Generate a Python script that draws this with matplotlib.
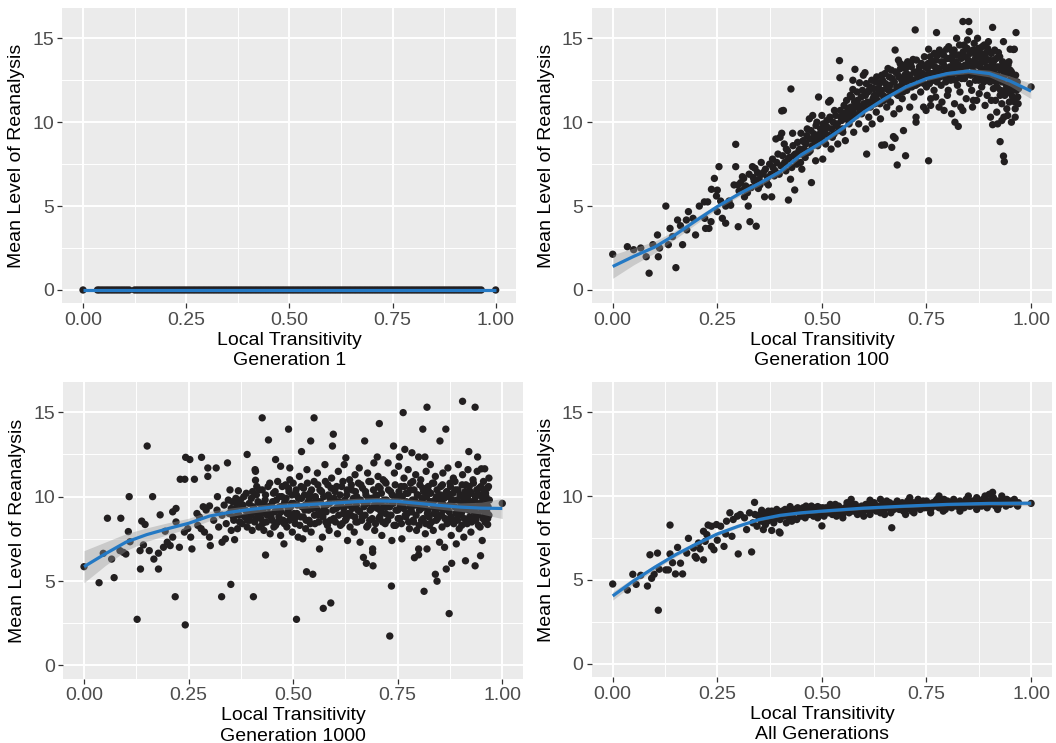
import matplotlib
matplotlib.use("Agg")
import matplotlib.pyplot as plt
import numpy as np

plt.rcParams['font.family'] = ['Liberation Sans', 'DejaVu Sans']

# ---------------- DATA ----------------
# Generation 1 : every point at level 0
gen1_x = [0.0, 0.035, 0.04, 0.046, 0.052, 0.058, 0.064, 0.07, 0.076, 0.082, 0.088, 0.094, 0.1, 0.106, 0.112,
          0.125, 0.131, 0.137, 0.143, 0.149, 0.155, 0.161, 0.167, 0.173, 0.179, 0.185, 0.191, 0.197, 0.203,
          0.209, 0.215, 0.221, 0.227, 0.233, 0.239, 0.245, 0.251, 0.257, 0.263, 0.269, 0.275, 0.281, 0.287,
          0.293, 0.299, 0.305, 0.311, 0.317, 0.323, 0.329, 0.335, 0.341, 0.347, 0.353, 0.359, 0.365, 0.371,
          0.377, 0.383, 0.389, 0.395, 0.401, 0.407, 0.413, 0.419, 0.425, 0.431, 0.437, 0.443, 0.449, 0.455,
          0.461, 0.467, 0.473, 0.479, 0.485, 0.491, 0.497, 0.503, 0.509, 0.515, 0.521, 0.527, 0.533, 0.539,
          0.545, 0.551, 0.557, 0.563, 0.569, 0.575, 0.581, 0.587, 0.593, 0.599, 0.605, 0.611, 0.617, 0.623,
          0.629, 0.635, 0.641, 0.647, 0.653, 0.659, 0.665, 0.671, 0.677, 0.683, 0.689, 0.695, 0.701, 0.707,
          0.713, 0.719, 0.725, 0.731, 0.737, 0.743, 0.749, 0.755, 0.761, 0.767, 0.773, 0.779, 0.785, 0.791,
          0.797, 0.803, 0.809, 0.815, 0.821, 0.827, 0.833, 0.839, 0.845, 0.851, 0.857, 0.863, 0.869, 0.875,
          0.881, 0.887, 0.893, 0.899, 0.905, 0.911, 0.917, 0.923, 0.929, 0.935, 0.941, 0.947, 0.953, 0.959,
          0.965, 1.0]
gen1_y = [0.0] * len(gen1_x)
gen1_fit_x = [0.0, 0.25, 0.5, 0.75, 1.0]
gen1_fit_y = [0.0, 0.0, 0.0, 0.0, 0.0]
gen1_fit_se = [0.0, 0.0, 0.0, 0.0, 0.0]

# Generation 100
gen100_pts = [
    (0.00, 2.13), (0.035, 2.58), (0.05, 2.40), (0.067, 2.50), (0.08, 1.98), (0.087, 1.00), (0.096, 2.70),
    (0.107, 3.28), (0.109, 1.98), (0.112, 2.50), (0.127, 5.00), (0.133, 2.70), (0.137, 3.67), (0.143, 3.18),
    (0.151, 1.33), (0.155, 4.17), (0.162, 3.83), (0.167, 2.70), (0.176, 4.17), (0.177, 3.58), (0.181, 4.67),
    (0.192, 4.27), (0.198, 3.28), (0.207, 5.00), (0.219, 5.25), (0.227, 5.25), (0.22, 4.27), (0.23, 3.67),
    (0.222, 3.67), (0.235, 4.07), (0.243, 6.65), (0.236, 6.00), (0.248, 5.60), (0.254, 7.35), (0.25, 5.95),
    (0.258, 5.30), (0.25, 4.67), (0.262, 4.27), (0.27, 3.98), (0.27, 5.00), (0.278, 5.30), (0.282, 5.05),
    (0.294, 8.68), (0.294, 7.35), (0.29, 6.26), (0.30, 6.26), (0.30, 3.77), (0.31, 6.75), (0.313, 6.65),
    (0.315, 6.05), (0.315, 5.55), (0.324, 5.00), (0.328, 4.07), (0.334, 7.35), (0.34, 7.25), (0.343, 3.80),
    (0.336, 6.70), (0.344, 6.26), (0.348, 6.05), (0.352, 6.26), (0.355, 7.60), (0.36, 7.00), (0.363, 5.55),
    (0.37, 6.70), (0.372, 6.26), (0.38, 5.55), (0.383, 7.30), (0.386, 6.80),
    (0.39, 9.00), (0.40, 9.10), (0.404, 10.67), (0.404, 9.34), (0.408, 10.70), (0.41, 8.70), (0.415, 8.40),
    (0.42, 5.36), (0.42, 7.80), (0.425, 6.60), (0.426, 11.98), (0.43, 9.34), (0.432, 8.00), (0.435, 5.96),
    (0.44, 7.50), (0.445, 8.30), (0.45, 9.34), (0.452, 7.20), (0.458, 8.80), (0.46, 7.90), (0.465, 9.60),
    (0.47, 10.20), (0.472, 8.30), (0.475, 6.40), (0.478, 10.40), (0.48, 9.00), (0.485, 7.70), (0.488, 10.00),
    (0.49, 8.60), (0.492, 11.50), (0.495, 9.30), (0.50, 10.40), (0.502, 7.80), (0.505, 8.90), (0.51, 9.60),
    (0.512, 10.10), (0.516, 11.20), (0.52, 11.30), (0.522, 8.40), (0.525, 9.10), (0.53, 10.70), (0.535, 9.80),
    (0.538, 8.70), (0.542, 13.67), (0.543, 12.65), (0.545, 10.30), (0.55, 9.40), (0.553, 11.00), (0.556, 8.90),
    (0.56, 10.60), (0.565, 9.90), (0.568, 11.60), (0.572, 10.20), (0.574, 12.50), (0.574, 11.95), (0.576, 9.40),
    (0.579, 13.15), (0.58, 10.90), (0.585, 11.30), (0.588, 9.90), (0.59, 12.35), (0.595, 10.50), (0.599, 12.80),
    (0.60, 11.10), (0.603, 12.95), (0.605, 9.60), (0.607, 8.10), (0.61, 11.80), (0.612, 10.30), (0.615, 12.10),
    (0.618, 11.00), (0.62, 9.90), (0.625, 11.60), (0.628, 12.40), (0.63, 10.60), (0.633, 11.30), (0.636, 12.00),
    (0.64, 10.20), (0.643, 12.80), (0.643, 8.63), (0.646, 11.60), (0.65, 8.65), (0.652, 12.30), (0.655, 10.90),
    (0.658, 13.20), (0.66, 11.90), (0.664, 11.20), (0.667, 8.50), (0.668, 12.60), (0.671, 9.14), (0.672, 10.50),
    (0.675, 14.30), (0.675, 9.04), (0.678, 11.70), (0.68, 7.45), (0.68, 12.90), (0.683, 13.70),
    (0.685, 10.80), (0.687, 13.50), (0.69, 12.20), (0.692, 11.40), (0.695, 9.50), (0.698, 12.80), (0.70, 8.00),
    (0.70, 13.20), (0.703, 11.90), (0.706, 12.50), (0.71, 10.90), (0.712, 13.50), (0.715, 12.10), (0.718, 13.74),
    (0.72, 11.50), (0.723, 15.50), (0.725, 10.30), (0.725, 10.00), (0.727, 12.90), (0.73, 12.30), (0.733, 13.30),
    (0.736, 11.80), (0.74, 12.70), (0.743, 10.90), (0.745, 13.90), (0.749, 10.70), (0.75, 12.10), (0.752, 13.20),
    (0.755, 7.70), (0.755, 14.35), (0.758, 12.60), (0.76, 11.40), (0.762, 13.60), (0.765, 12.90), (0.768, 11.90),
    (0.77, 13.30), (0.774, 15.34), (0.775, 12.40), (0.777, 14.00), (0.78, 10.90), (0.782, 13.00), (0.785, 12.20),
    (0.788, 14.10), (0.79, 13.50), (0.792, 10.70), (0.795, 12.70), (0.798, 14.35), (0.80, 13.10), (0.802, 11.90),
    (0.805, 13.80), (0.808, 12.50), (0.81, 10.50), (0.812, 14.20), (0.814, 13.60), (0.815, 12.90), (0.818, 10.00),
    (0.82, 13.30), (0.822, 15.00), (0.824, 12.20), (0.826, 9.75), (0.828, 14.00), (0.83, 13.00), (0.832, 10.90),
    (0.834, 12.60), (0.837, 16.00), (0.837, 10.70), (0.84, 14.60), (0.842, 13.40), (0.845, 12.80), (0.848, 14.90),
    (0.85, 13.70), (0.851, 16.00), (0.852, 15.40), (0.853, 12.30), (0.855, 14.20), (0.858, 11.90), (0.86, 13.30),
    (0.862, 11.30), (0.864, 14.70), (0.866, 12.90), (0.868, 13.90), (0.87, 11.30), (0.872, 15.00), (0.874, 14.40),
    (0.875, 12.50), (0.877, 13.50), (0.88, 14.10), (0.882, 12.10), (0.885, 13.10), (0.888, 14.60), (0.89, 12.70),
    (0.892, 13.80), (0.895, 11.60), (0.898, 14.80), (0.90, 12.90), (0.902, 12.40), (0.903, 10.30), (0.904, 14.15),
    (0.906, 13.40), (0.908, 15.65), (0.908, 9.85), (0.91, 12.00), (0.912, 13.70), (0.915, 11.30), (0.918, 12.80),
    (0.92, 9.90), (0.922, 14.15), (0.924, 13.20), (0.926, 8.84), (0.926, 11.60), (0.928, 12.60), (0.93, 10.10),
    (0.932, 13.60), (0.934, 14.80), (0.934, 7.98), (0.935, 10.30), (0.936, 7.65), (0.938, 11.90), (0.94, 12.90),
    (0.942, 10.80), (0.945, 13.40), (0.948, 11.20), (0.95, 13.10), (0.95, 14.35), (0.952, 11.70), (0.955, 12.40),
    (0.958, 14.33), (0.958, 11.40), (0.96, 14.35), (0.962, 10.30), (0.964, 15.34), (0.966, 12.00), (0.968, 11.50),
    (1.0, 12.10)]
gen100_band = [
    (0.302, 5.9), (0.306, 6.4), (0.318, 6.2), (0.322, 5.8), (0.326, 6.9), (0.331, 6.1), (0.338, 6.5), (0.346, 7.0),
    (0.35, 6.6), (0.357, 6.9), (0.365, 7.2), (0.368, 6.4), (0.375, 7.5), (0.378, 6.9), (0.382, 7.8), (0.388, 7.1),
    (0.392, 7.6), (0.395, 8.1), (0.398, 6.9), (0.402, 7.4), (0.406, 8.0), (0.411, 7.6), (0.414, 7.1), (0.418, 8.3),
    (0.422, 7.9), (0.428, 7.3), (0.431, 8.6), (0.436, 8.1), (0.438, 7.7), (0.442, 8.8), (0.447, 8.4), (0.449, 7.6),
    (0.451, 8.1), (0.455, 8.9), (0.457, 8.4), (0.462, 8.7), (0.464, 9.2), (0.468, 8.2), (0.471, 9.0), (0.474, 9.5),
    (0.477, 8.6), (0.481, 9.3), (0.484, 8.9), (0.486, 9.8), (0.489, 9.1), (0.493, 8.8), (0.497, 9.6), (0.499, 9.0),
    (0.503, 9.9), (0.507, 9.3), (0.509, 8.7), (0.513, 9.7), (0.517, 9.2), (0.519, 10.3), (0.523, 9.6), (0.527, 10.0),
    (0.529, 9.3), (0.533, 10.4), (0.537, 9.9), (0.54, 9.5), (0.544, 10.7), (0.547, 10.1), (0.549, 9.6), (0.552, 10.5),
    (0.557, 10.2), (0.559, 11.3), (0.562, 10.8), (0.566, 10.4), (0.569, 10.9), (0.571, 11.5), (0.575, 10.6),
    (0.578, 11.2), (0.582, 10.4), (0.584, 11.8), (0.587, 11.0), (0.591, 10.7), (0.594, 11.5), (0.597, 11.9),
    (0.601, 10.9), (0.604, 11.6), (0.606, 12.3), (0.609, 11.2), (0.613, 11.9), (0.616, 10.9), (0.619, 12.5),
    (0.622, 11.4), (0.624, 12.0), (0.627, 11.1), (0.631, 12.7), (0.634, 11.7), (0.637, 12.3), (0.639, 11.1),
    (0.642, 11.9), (0.645, 12.5), (0.648, 11.3), (0.651, 12.9), (0.654, 12.0), (0.657, 11.5), (0.661, 12.7),
    (0.663, 12.2), (0.666, 13.1), (0.669, 11.8), (0.673, 12.4), (0.676, 13.0), (0.679, 12.1), (0.682, 11.6),
    (0.684, 12.7), (0.688, 13.2), (0.691, 12.5), (0.694, 11.8), (0.697, 13.4), (0.699, 12.4), (0.702, 12.9),
    (0.705, 13.6), (0.708, 12.1), (0.711, 12.8), (0.714, 13.3), (0.717, 12.5), (0.721, 13.0), (0.724, 12.2),
    (0.726, 13.7), (0.729, 12.7), (0.732, 13.1), (0.735, 12.4), (0.738, 13.5), (0.741, 12.9), (0.744, 12.3),
    (0.747, 13.3), (0.751, 12.8), (0.754, 13.5), (0.757, 12.3), (0.759, 13.9), (0.761, 12.9), (0.764, 13.4),
    (0.766, 12.5), (0.769, 14.1), (0.771, 12.9), (0.773, 13.7), (0.776, 12.6), (0.779, 13.2), (0.781, 14.3),
    (0.783, 12.7), (0.786, 13.6), (0.789, 12.9), (0.791, 14.0), (0.793, 13.3), (0.796, 12.4), (0.799, 13.8),
    (0.801, 12.9), (0.803, 14.5), (0.806, 13.3), (0.809, 12.7), (0.811, 13.9), (0.813, 13.1), (0.816, 14.3),
    (0.819, 12.5), (0.821, 13.6), (0.823, 14.0), (0.825, 12.9), (0.827, 13.4), (0.829, 14.6), (0.831, 12.7),
    (0.833, 13.8), (0.836, 13.2), (0.838, 14.2), (0.841, 12.6), (0.843, 13.9), (0.846, 13.3), (0.847, 14.4),
    (0.849, 12.9), (0.852, 13.6), (0.854, 14.1), (0.856, 12.8), (0.859, 13.5), (0.861, 14.3), (0.863, 13.0),
    (0.865, 13.7), (0.867, 12.5), (0.869, 14.0), (0.871, 13.4), (0.873, 12.9), (0.876, 14.2), (0.878, 13.3),
    (0.879, 12.7), (0.881, 13.8), (0.883, 14.5), (0.886, 13.0), (0.887, 12.4), (0.889, 13.6), (0.891, 14.1),
    (0.893, 12.9), (0.894, 13.3), (0.896, 14.4), (0.899, 12.6), (0.901, 13.7), (0.903, 13.1), (0.905, 14.1),
    (0.907, 12.5), (0.909, 13.5), (0.911, 12.9), (0.913, 14.3), (0.914, 13.2), (0.916, 12.4), (0.917, 13.8),
    (0.919, 12.1), (0.921, 13.3), (0.923, 12.7), (0.925, 13.9), (0.927, 11.9), (0.929, 13.1), (0.931, 12.4),
    (0.933, 13.5), (0.936, 12.8), (0.937, 11.6), (0.939, 13.2), (0.941, 12.2), (0.944, 12.9), (0.946, 11.8),
    (0.947, 13.6), (0.949, 12.5), (0.951, 12.0), (0.953, 13.0), (0.956, 11.5), (0.957, 12.7), (0.959, 12.2),
    (0.961, 11.2), (0.963, 12.8), (0.965, 11.9), (0.967, 12.4), (0.969, 11.1), (0.97, 12.0),
    (0.76, 11.0), (0.772, 11.5), (0.787, 11.2), (0.80, 11.6), (0.817, 11.1), (0.83, 11.8), (0.845, 11.4),
    (0.86, 10.9), (0.876, 11.7), (0.89, 11.0), (0.905, 11.3), (0.918, 10.6), (0.93, 11.1), (0.944, 10.4),
    (0.953, 10.0), (0.962, 10.8)]
gen100_x = [p[0] for p in gen100_pts + gen100_band]
gen100_y = [p[1] for p in gen100_pts + gen100_band]
gen100_fit_x = [0, .05, .1, .15, .2, .25, .3, .35, .4, .45, .5, .55, .6, .65, .7, .75, .8, .85, .9, .95, 1.0]
gen100_fit_y = [1.4, 2.0, 2.55, 3.3, 4.15, 4.97, 5.7, 6.35, 7.05, 8.05, 8.8, 9.65, 10.6, 11.4, 12.1, 12.6,
                12.9, 13.05, 12.9, 12.45, 11.85]
gen100_fit_se = [0.7, 0.5, 0.35, 0.25, 0.2, 0.15, 0.15, 0.15, 0.15, 0.15, 0.15, 0.12, 0.12, 0.12, 0.12,
                 0.12, 0.12, 0.15, 0.2, 0.3, 0.45]

# Generation 1000
gen1000_pts = [
    (0.0, 5.85), (0.036, 4.9), (0.072, 5.2), (0.046, 6.64), (0.066, 6.3), (0.056, 8.72), (0.088, 8.72),
    (0.108, 10.0), (0.106, 7.93), (0.11, 7.33), (0.086, 6.8), (0.094, 6.7), (0.1, 6.6), (0.127, 2.73),
    (0.151, 13.0), (0.138, 8.55), (0.146, 8.35), (0.134, 6.8), (0.142, 7.14), (0.135, 5.71), (0.156, 6.8),
    (0.164, 10.0), (0.167, 6.3), (0.178, 6.65), (0.178, 5.71), (0.182, 8.92), (0.194, 7.95), (0.19, 7.0),
    (0.199, 7.3), (0.206, 7.1), (0.212, 7.6), (0.212, 9.1), (0.22, 9.3), (0.22, 8.5), (0.218, 4.07),
    (0.228, 7.0), (0.23, 11.03), (0.241, 11.03), (0.243, 12.33), (0.253, 12.2), (0.242, 2.4), (0.24, 7.9),
    (0.248, 8.1), (0.255, 7.6), (0.258, 6.9), (0.264, 11.03), (0.281, 12.33), (0.27, 9.0), (0.276, 8.8),
    (0.285, 9.4), (0.292, 9.2), (0.296, 11.7), (0.296, 11.2), (0.316, 11.7), (0.272, 8.3), (0.28, 8.1),
    (0.288, 7.9), (0.30, 7.6), (0.302, 7.1), (0.30, 9.45), (0.319, 10.0), (0.329, 4.07), (0.343, 12.0),
    (0.351, 4.8), (0.349, 10.4), (0.345, 9.8), (0.33, 7.3), (0.338, 7.5), (0.36, 7.45), (0.369, 10.35),
    (0.365, 9.6), (0.39, 12.5), (0.405, 4.07), (0.409, 11.6), (0.41, 11.5), (0.41, 10.97), (0.413, 10.6),
    (0.426, 14.67), (0.441, 13.36), (0.434, 6.54), (0.458, 12.2), (0.47, 11.8), (0.489, 14.0), (0.492, 11.7),
    (0.492, 11.0), (0.508, 2.73), (0.478, 7.2),
    (0.31, 8.6), (0.318, 9.2), (0.322, 8.2), (0.33, 8.9), (0.335, 9.5), (0.34, 8.4), (0.347, 9.0), (0.352, 8.0),
    (0.355, 9.7), (0.358, 8.6), (0.362, 9.3), (0.367, 8.1), (0.37, 8.9), (0.374, 9.8), (0.378, 8.4), (0.38, 9.5),
    (0.384, 8.8), (0.388, 10.2), (0.39, 8.2), (0.393, 9.1), (0.396, 8.6), (0.40, 9.9), (0.402, 8.0), (0.405, 9.4),
    (0.408, 8.5), (0.412, 10.1), (0.415, 9.0), (0.418, 8.2), (0.42, 9.6), (0.423, 8.7), (0.426, 10.4),
    (0.428, 9.2), (0.43, 8.0), (0.433, 9.8), (0.436, 8.5), (0.44, 10.6), (0.442, 9.0), (0.445, 7.8), (0.448, 9.5),
    (0.45, 8.6), (0.453, 10.2), (0.456, 9.1), (0.458, 8.3), (0.46, 9.8), (0.463, 10.9), (0.466, 8.8),
    (0.468, 9.4), (0.47, 7.7), (0.473, 10.0), (0.476, 8.6), (0.48, 9.7), (0.482, 10.7), (0.485, 8.2),
    (0.488, 9.2), (0.49, 10.3), (0.493, 8.9), (0.496, 9.6), (0.498, 7.9),
    (0.50, 10.8), (0.502, 9.0), (0.505, 8.4), (0.508, 10.1), (0.51, 9.5), (0.512, 7.6), (0.515, 11.2),
    (0.518, 8.8), (0.52, 9.9), (0.52, 12.67), (0.523, 7.5), (0.525, 10.5), (0.528, 9.2), (0.53, 8.1),
    (0.532, 5.55), (0.533, 11.6), (0.536, 9.7), (0.538, 8.6), (0.54, 10.2), (0.542, 13.3), (0.543, 7.9),
    (0.546, 9.3), (0.547, 5.4), (0.55, 14.67), (0.55, 10.9), (0.552, 8.4), (0.555, 9.8), (0.558, 11.4),
    (0.56, 8.9), (0.563, 6.9), (0.564, 10.4), (0.567, 9.1), (0.57, 7.6), (0.572, 3.38), (0.573, 10.0),
    (0.576, 11.9), (0.578, 8.5), (0.58, 9.5), (0.583, 10.7), (0.586, 8.0), (0.588, 9.9), (0.59, 3.7),
    (0.592, 11.1), (0.594, 13.0), (0.596, 13.7), (0.597, 8.7), (0.6, 10.3), (0.603, 9.3), (0.606, 7.8),
    (0.608, 11.5), (0.61, 9.7), (0.613, 8.3), (0.616, 10.6), (0.62, 9.0), (0.622, 11.9), (0.625, 8.6),
    (0.626, 12.3), (0.628, 10.1), (0.63, 7.4), (0.632, 9.5), (0.635, 11.0), (0.638, 8.9), (0.64, 10.4),
    (0.643, 9.8), (0.646, 7.9), (0.648, 11.3), (0.65, 8.5), (0.652, 10.0), (0.655, 9.2), (0.658, 11.7),
    (0.66, 7.3), (0.662, 10.7), (0.665, 8.8), (0.668, 6.4), (0.67, 9.6), (0.671, 13.3), (0.673, 10.3),
    (0.675, 6.05), (0.676, 8.2), (0.678, 11.4), (0.68, 9.9), (0.683, 8.6), (0.686, 10.9), (0.688, 9.3),
    (0.69, 6.9), (0.69, 6.7), (0.691, 5.9), (0.693, 12.0), (0.695, 8.0), (0.698, 10.1), (0.70, 9.6),
    (0.701, 12.35),
    (0.703, 11.2), (0.705, 8.7), (0.706, 14.33), (0.708, 10.5), (0.71, 9.1), (0.712, 7.7), (0.715, 11.0),
    (0.717, 9.8), (0.72, 8.4), (0.722, 10.8), (0.725, 9.4), (0.727, 12.0), (0.73, 8.9), (0.731, 1.74),
    (0.733, 10.3), (0.735, 4.7), (0.736, 7.4), (0.738, 9.7), (0.74, 13.0), (0.742, 11.4), (0.745, 8.3),
    (0.748, 10.0), (0.75, 9.2), (0.752, 11.8), (0.754, 12.35), (0.755, 8.7), (0.758, 10.6), (0.76, 7.5),
    (0.762, 9.5), (0.763, 14.98), (0.765, 11.1), (0.767, 12.8), (0.768, 8.9), (0.77, 10.2), (0.773, 9.0),
    (0.775, 11.6), (0.778, 8.1), (0.78, 10.4), (0.782, 9.3), (0.784, 12.6), (0.786, 10.9), (0.788, 8.5),
    (0.79, 6.38), (0.79, 9.8), (0.793, 11.3), (0.795, 8.0), (0.798, 10.1), (0.80, 6.55), (0.80, 12.35),
    (0.8, 6.9), (0.802, 9.2), (0.805, 11.0), (0.807, 8.6), (0.81, 14.0), (0.81, 10.5), (0.813, 4.39),
    (0.813, 9.6), (0.815, 12.35), (0.816, 7.8), (0.818, 11.5), (0.82, 15.3), (0.82, 6.9), (0.821, 9.0),
    (0.824, 10.3), (0.826, 8.3), (0.828, 11.9), (0.83, 9.7), (0.833, 10.8), (0.835, 8.0), (0.838, 9.3),
    (0.84, 5.4), (0.84, 11.2), (0.843, 10.0), (0.844, 4.99), (0.845, 8.7), (0.848, 9.9), (0.85, 7.3),
    (0.851, 13.3), (0.853, 10.6), (0.855, 8.9), (0.858, 11.4), (0.86, 9.5), (0.862, 7.0), (0.865, 14.0),
    (0.865, 10.2), (0.866, 5.71), (0.868, 8.4), (0.87, 11.7), (0.873, 3.07), (0.873, 9.1), (0.875, 10.8),
    (0.878, 7.7), (0.879, 6.05), (0.88, 9.8), (0.883, 11.1), (0.885, 8.6), (0.888, 10.4), (0.89, 7.2),
    (0.892, 9.3), (0.895, 11.9), (0.897, 8.1), (0.90, 10.1), (0.902, 9.0), (0.905, 15.65), (0.905, 11.3),
    (0.908, 7.6), (0.91, 9.7), (0.912, 6.2), (0.913, 10.7), (0.915, 8.5), (0.918, 11.6), (0.92, 12.67),
    (0.92, 9.2), (0.923, 10.3), (0.925, 7.9), (0.928, 9.6), (0.93, 11.0), (0.932, 8.7), (0.935, 15.3),
    (0.935, 5.9), (0.936, 10.0), (0.938, 9.0), (0.94, 11.5), (0.941, 12.35), (0.943, 8.3), (0.945, 10.5),
    (0.948, 6.5), (0.948, 9.4), (0.95, 11.65), (0.952, 7.4), (0.955, 10.9), (0.958, 11.65), (0.958, 8.9),
    (0.96, 10.2), (0.962, 9.6), (0.965, 8.35), (0.965, 8.7), (0.967, 10.6), (0.968, 11.1), (1.0, 9.6)]
gen1000_cloud = [
    (0.352, 9.3), (0.357, 8.8), (0.363, 9.9), (0.368, 9.0), (0.372, 8.5), (0.377, 9.4), (0.382, 10.0),
    (0.386, 9.2), (0.391, 8.6), (0.395, 9.6), (0.399, 8.9), (0.403, 10.3), (0.407, 9.1), (0.411, 8.7),
    (0.416, 9.7), (0.419, 10.4), (0.424, 9.0), (0.427, 8.4), (0.431, 9.5), (0.434, 10.1), (0.438, 8.9),
    (0.441, 9.4), (0.444, 10.8), (0.447, 8.8), (0.451, 9.7), (0.454, 8.2), (0.457, 10.3), (0.461, 9.3),
    (0.464, 8.5), (0.467, 10.0), (0.471, 9.1), (0.474, 10.6), (0.477, 9.5), (0.479, 8.4), (0.483, 9.9),
    (0.486, 9.0), (0.489, 10.5), (0.491, 8.6), (0.494, 9.4), (0.497, 10.1),
    (0.501, 9.6), (0.504, 8.7), (0.507, 10.4), (0.509, 9.0), (0.513, 9.9), (0.516, 8.3), (0.519, 10.6),
    (0.521, 9.4), (0.524, 8.8), (0.527, 10.1), (0.529, 9.5), (0.531, 8.6), (0.534, 10.8), (0.537, 9.2),
    (0.539, 9.9), (0.541, 8.4), (0.544, 10.4), (0.548, 9.6), (0.551, 8.9), (0.553, 10.0), (0.556, 9.3),
    (0.559, 10.7), (0.561, 8.5), (0.565, 9.7), (0.568, 10.3), (0.571, 8.8), (0.574, 9.4), (0.577, 10.9),
    (0.579, 9.1), (0.582, 8.3), (0.584, 10.1), (0.587, 9.6), (0.589, 8.6), (0.591, 10.5), (0.595, 9.2),
    (0.598, 9.9),
    (0.601, 8.5), (0.604, 10.6), (0.607, 9.4), (0.609, 8.9), (0.612, 10.1), (0.614, 9.6), (0.617, 8.4),
    (0.619, 10.9), (0.621, 9.3), (0.624, 9.8), (0.627, 8.7), (0.629, 10.4), (0.631, 9.0), (0.634, 9.6),
    (0.636, 8.2), (0.639, 10.7), (0.641, 9.3), (0.644, 9.9), (0.647, 8.8), (0.649, 10.3), (0.651, 9.5),
    (0.654, 8.5), (0.656, 10.8), (0.659, 9.1), (0.661, 9.8), (0.664, 8.6), (0.666, 10.5), (0.669, 9.4),
    (0.672, 8.9), (0.674, 10.1), (0.677, 9.6), (0.679, 8.3), (0.681, 10.9), (0.684, 9.2), (0.687, 9.9),
    (0.689, 8.7), (0.692, 10.4), (0.694, 9.5), (0.697, 8.4), (0.699, 10.0),
    (0.702, 9.3), (0.704, 10.6), (0.707, 8.8), (0.709, 9.7), (0.711, 10.2), (0.714, 8.5), (0.716, 9.4),
    (0.719, 10.9), (0.721, 9.0), (0.723, 9.8), (0.726, 8.6), (0.728, 10.4), (0.731, 9.4), (0.734, 8.9),
    (0.737, 10.1), (0.739, 9.6), (0.741, 8.3), (0.744, 10.7), (0.746, 9.2), (0.749, 9.9), (0.751, 8.7),
    (0.753, 10.3), (0.756, 9.5), (0.759, 8.4), (0.761, 10.0), (0.764, 9.3), (0.766, 10.6), (0.769, 8.8),
    (0.771, 9.7), (0.774, 10.2), (0.776, 8.5), (0.779, 9.4), (0.781, 10.8), (0.783, 9.1), (0.785, 9.8),
    (0.787, 8.6), (0.789, 10.4), (0.792, 9.5), (0.794, 8.9), (0.797, 10.1), (0.799, 9.6),
    (0.801, 8.3), (0.803, 10.7), (0.806, 9.3), (0.808, 9.9), (0.811, 8.7), (0.812, 10.3), (0.814, 9.4),
    (0.817, 8.4), (0.819, 10.0), (0.822, 9.2), (0.823, 10.6), (0.825, 8.8), (0.827, 9.7), (0.829, 10.2),
    (0.831, 8.5), (0.834, 9.5), (0.836, 10.8), (0.837, 9.0), (0.839, 9.8), (0.842, 8.6), (0.844, 10.4),
    (0.846, 9.3), (0.849, 8.9), (0.852, 10.1), (0.854, 9.6), (0.856, 8.2), (0.857, 10.7), (0.859, 9.2),
    (0.861, 9.9), (0.863, 8.7), (0.867, 10.3), (0.869, 9.4), (0.871, 8.5), (0.872, 10.0), (0.874, 9.5),
    (0.876, 10.6), (0.877, 8.8), (0.879, 9.7), (0.882, 10.2), (0.884, 8.4), (0.886, 9.4), (0.887, 10.9),
    (0.889, 9.0), (0.891, 9.8), (0.893, 8.6), (0.894, 10.4), (0.896, 9.3), (0.898, 8.9), (0.899, 10.1),
    (0.901, 9.6), (0.903, 8.3), (0.904, 10.7), (0.906, 9.2), (0.907, 9.9), (0.909, 8.7), (0.911, 10.3),
    (0.914, 9.5), (0.916, 8.4), (0.917, 10.0), (0.919, 9.3), (0.921, 10.6), (0.922, 8.8), (0.924, 9.7),
    (0.926, 10.2), (0.927, 8.5), (0.929, 9.4), (0.931, 10.8), (0.933, 9.1), (0.934, 9.8), (0.937, 8.6),
    (0.939, 10.4), (0.94, 9.4), (0.942, 8.9), (0.944, 10.1), (0.946, 9.6), (0.947, 8.2), (0.949, 10.6),
    (0.951, 9.2), (0.953, 9.9), (0.954, 8.7), (0.956, 10.3), (0.957, 9.5), (0.959, 8.5), (0.961, 10.0),
    (0.963, 9.1), (0.964, 10.5), (0.966, 9.4), (0.968, 8.9), (0.969, 9.8)]
gen1000_x = [p[0] for p in gen1000_pts + gen1000_cloud]
gen1000_y = [p[1] for p in gen1000_pts + gen1000_cloud]
gen1000_fit_x = [0, .05, .1, .15, .2, .25, .3, .35, .4, .45, .5, .55, .6, .65, .7, .75, .8, .85, .9, .95, 1.0]
gen1000_fit_y = [5.85, 6.6, 7.3, 7.75, 8.1, 8.42, 8.85, 9.08, 9.25, 9.38, 9.47, 9.55, 9.62, 9.7, 9.75, 9.72,
                 9.6, 9.48, 9.38, 9.32, 9.3]
gen1000_fit_se = [0.95, 0.7, 0.5, 0.4, 0.35, 0.3, 0.28, 0.25, 0.22, 0.2, 0.2, 0.2, 0.2, 0.2, 0.2, 0.2,
                  0.2, 0.22, 0.25, 0.35, 0.6]

# All generations
genall_pts = [
    (0.0, 4.76), (0.035, 4.4), (0.048, 5.34), (0.067, 5.28), (0.056, 4.74), (0.083, 4.64), (0.089, 6.5),
    (0.107, 6.6), (0.093, 5.1), (0.099, 5.34), (0.109, 3.2), (0.111, 5.64), (0.127, 5.6), (0.133, 5.6),
    (0.137, 6.55), (0.137, 8.27), (0.143, 6.03), (0.15, 5.36), (0.167, 5.36), (0.162, 6.0), (0.155, 6.94),
    (0.181, 7.48), (0.177, 6.6), (0.193, 6.9), (0.197, 6.4), (0.2, 6.3), (0.217, 6.2), (0.209, 6.85),
    (0.205, 7.2), (0.217, 7.9), (0.225, 7.7), (0.221, 7.3), (0.228, 8.27), (0.236, 8.2), (0.248, 8.3),
    (0.258, 8.2), (0.236, 7.0), (0.242, 6.8), (0.266, 7.0), (0.25, 7.37), (0.27, 7.74), (0.285, 7.6),
    (0.28, 9.0), (0.272, 8.5), (0.288, 8.6), (0.298, 8.8), (0.305, 8.9), (0.315, 8.7), (0.327, 9.0),
    (0.30, 6.55), (0.332, 6.67), (0.339, 9.62), (0.32, 8.0), (0.356, 9.15), (0.36, 8.0), (0.38, 7.95),
    (0.398, 7.86), (0.40, 7.8), (0.37, 8.5), (0.378, 8.8), (0.39, 8.9), (0.40, 8.9), (0.424, 9.37),
    (0.428, 8.5), (0.5, 8.22), (0.49, 9.37), (0.667, 8.11), (0.908, 10.22), (1.0, 9.56), (0.615, 9.75),
    (0.335, 8.4), (0.34, 8.9), (0.345, 8.2), (0.35, 8.7), (0.355, 8.5), (0.36, 9.0), (0.365, 8.3), (0.37, 8.8),
    (0.375, 8.6), (0.38, 9.1), (0.385, 8.4), (0.39, 8.7), (0.395, 9.0), (0.40, 8.6), (0.405, 9.1), (0.41, 8.8),
    (0.415, 8.4), (0.42, 9.0), (0.425, 8.9), (0.43, 8.7), (0.435, 9.2), (0.44, 8.6), (0.445, 9.0), (0.45, 8.8),
    (0.455, 9.3), (0.46, 8.7), (0.465, 9.1), (0.47, 8.9), (0.475, 9.4), (0.48, 8.8), (0.485, 9.1), (0.49, 8.7),
    (0.495, 9.3), (0.50, 9.0), (0.505, 8.8), (0.51, 9.3), (0.515, 9.0), (0.52, 9.5), (0.525, 8.9), (0.53, 9.2),
    (0.535, 8.8), (0.54, 9.4), (0.545, 9.1), (0.55, 8.9), (0.555, 9.3), (0.56, 9.6), (0.565, 9.0), (0.57, 9.3),
    (0.575, 9.1), (0.58, 9.5), (0.585, 8.9), (0.59, 9.2), (0.595, 9.4), (0.60, 9.1), (0.605, 9.5), (0.61, 9.2),
    (0.615, 8.9), (0.62, 9.4), (0.625, 9.6), (0.63, 9.1), (0.635, 9.3), (0.64, 9.0), (0.645, 9.5), (0.65, 9.2),
    (0.655, 9.7), (0.66, 9.3), (0.665, 9.0), (0.67, 9.5), (0.675, 9.3), (0.68, 9.7), (0.685, 9.2), (0.69, 9.5),
    (0.695, 9.1), (0.70, 9.4), (0.705, 9.7), (0.71, 9.3), (0.715, 9.1), (0.72, 9.6), (0.725, 9.4), (0.73, 9.8),
    (0.735, 9.2), (0.74, 9.5), (0.745, 9.3), (0.75, 9.7), (0.755, 9.4), (0.76, 9.2), (0.765, 9.6), (0.77, 9.4),
    (0.775, 9.8), (0.78, 9.3), (0.785, 9.6), (0.79, 9.5), (0.795, 9.2), (0.80, 9.7), (0.805, 9.5), (0.81, 9.3),
    (0.815, 9.8), (0.82, 9.6), (0.825, 9.4), (0.83, 9.7), (0.835, 9.5), (0.84, 9.3), (0.845, 9.8), (0.85, 9.6),
    (0.855, 9.4), (0.86, 9.7), (0.865, 9.5), (0.87, 9.9), (0.875, 9.4), (0.88, 9.6), (0.885, 9.8), (0.89, 9.5),
    (0.895, 9.3), (0.90, 9.7), (0.905, 9.6), (0.91, 9.9), (0.915, 9.4), (0.92, 9.7), (0.925, 9.5), (0.93, 9.8),
    (0.935, 9.6), (0.94, 9.4), (0.945, 9.7), (0.95, 9.5), (0.955, 9.6), (0.96, 9.8), (0.965, 9.5), (0.97, 9.6)]
genall_band = [
    (0.352, 8.9), (0.362, 8.6), (0.372, 9.1), (0.382, 8.7), (0.392, 9.2), (0.402, 8.8), (0.412, 9.2),
    (0.422, 8.7), (0.432, 9.0), (0.442, 9.3), (0.452, 8.9), (0.462, 9.4), (0.472, 9.1), (0.482, 9.3),
    (0.492, 9.0), (0.502, 9.3), (0.512, 9.1), (0.522, 9.2), (0.532, 9.5), (0.542, 9.0), (0.552, 9.2),
    (0.562, 9.3), (0.572, 9.5), (0.582, 9.2), (0.592, 9.0), (0.602, 9.3), (0.612, 9.5), (0.622, 9.2),
    (0.632, 9.4), (0.642, 9.3), (0.652, 9.5), (0.662, 9.6), (0.672, 9.2), (0.682, 9.4), (0.692, 9.6),
    (0.702, 9.2), (0.712, 9.6), (0.722, 9.3), (0.732, 9.5), (0.742, 9.7), (0.752, 9.3), (0.762, 9.5),
    (0.772, 9.7), (0.782, 9.5), (0.792, 9.8), (0.802, 9.4), (0.812, 9.6), (0.822, 9.4), (0.832, 9.5),
    (0.842, 9.6), (0.852, 9.4), (0.862, 9.5), (0.872, 9.6), (0.882, 9.4), (0.892, 9.7), (0.902, 9.5),
    (0.912, 9.6), (0.922, 9.4), (0.932, 9.6), (0.942, 9.8), (0.952, 9.7), (0.962, 9.6), (0.968, 9.4),
    (0.55, 8.7), (0.6, 8.8), (0.65, 8.9), (0.7, 8.9), (0.72, 9.0), (0.76, 9.0), (0.79, 9.1), (0.83, 9.1),
    (0.87, 9.2), (0.92, 9.2), (0.57, 9.8), (0.64, 9.8), (0.71, 9.9), (0.78, 10.0), (0.85, 10.0), (0.89, 10.0),
    (0.93, 10.0), (0.90, 10.1)]
genall_x = [p[0] for p in genall_pts + genall_band]
genall_y = [p[1] for p in genall_pts + genall_band]
genall_fit_x = [0, .05, .1, .15, .2, .25, .3, .35, .4, .45, .5, .6, .7, .8, .9, 1.0]
genall_fit_y = [4.05, 4.95, 5.75, 6.5, 7.15, 7.74, 8.2, 8.6, 8.85, 9.0, 9.1, 9.28, 9.4, 9.5, 9.56, 9.57]
genall_fit_se = [0.25, 0.18, 0.15, 0.12, 0.1, 0.1, 0.08, 0.08, 0.08, 0.08, 0.08, 0.08, 0.08, 0.08, 0.1, 0.15]

panel_titles = ["Generation 1", "Generation 100", "Generation 1000", "All Generations"]
x_title = "Local Transitivity"
y_title = "Mean Level of Reanalysis"
x_ticks = [0.0, 0.25, 0.5, 0.75, 1.0]
x_ticklabels = ["0.00", "0.25", "0.50", "0.75", "1.00"]
y_ticks = [0, 5, 10, 15]

# ---------------- STYLE / LAYOUT ----------------
W, H = 1056, 743
fig = plt.figure(figsize=(W / 100, H / 100), dpi=100)

# pixel boxes: left, right, top, bottom
boxes = [(62.4, 516.3, 8.1, 303.4),
         (591.8, 1052.0, 8.1, 303.4),
         (63.1, 523.2, 381.9, 678.9),
         (591.8, 1052.0, 381.8, 677.4)]

datasets = [
    (gen1_x, gen1_y, gen1_fit_x, gen1_fit_y, gen1_fit_se),
    (gen100_x, gen100_y, gen100_fit_x, gen100_fit_y, gen100_fit_se),
    (gen1000_x, gen1000_y, gen1000_fit_x, gen1000_fit_y, gen1000_fit_se),
    (genall_x, genall_y, genall_fit_x, genall_fit_y, genall_fit_se),
]

PANEL = '#EBEBEB'
LINE = '#2479C4'
PT = '#221F20'

for (l, r, t, b), (px, py, fx, fy, fse), title in zip(boxes, datasets, panel_titles):
    ax = fig.add_axes([l / W, 1 - b / H, (r - l) / W, (b - t) / H])
    ax.set_facecolor(PANEL)
    for s in ax.spines.values():
        s.set_visible(False)
    ax.set_xlim(-0.05, 1.05)
    ax.set_ylim(-0.8, 16.8)
    ax.set_xticks(x_ticks)
    ax.set_xticklabels(x_ticklabels)
    ax.set_yticks(y_ticks)
    ax.set_xticks([0.125, 0.375, 0.625, 0.875], minor=True)
    ax.set_yticks([2.5, 7.5, 12.5], minor=True)
    ax.grid(which='major', color='white', linewidth=1.4)
    ax.grid(which='minor', color='white', linewidth=0.7)
    ax.set_axisbelow(True)
    ax.tick_params(which='major', length=3.5, width=0.9, color='#333333', labelsize=14,
                   labelcolor='#4D4D4D', pad=2.5)
    ax.tick_params(which='minor', length=0)

    ax.scatter(px, py, s=28, color=PT, edgecolors='none', zorder=3)
    fx_a = np.array(fx, dtype=float)
    fy_a = np.array(fy, dtype=float)
    fse_a = np.array(fse, dtype=float)
    ax.fill_between(fx_a, fy_a - fse_a, fy_a + fse_a, color='#999999', alpha=0.4,
                    linewidth=0, zorder=4)
    ax.plot(fx_a, fy_a, color=LINE, linewidth=2.3, zorder=5, solid_capstyle='butt')

    ax.set_xlabel(x_title + "\n" + title, fontsize=14, color='black', labelpad=2,
                  linespacing=1.28)
    ax.set_ylabel(y_title, fontsize=14, color='black', labelpad=5)

fig.savefig("out.png", dpi=100)
